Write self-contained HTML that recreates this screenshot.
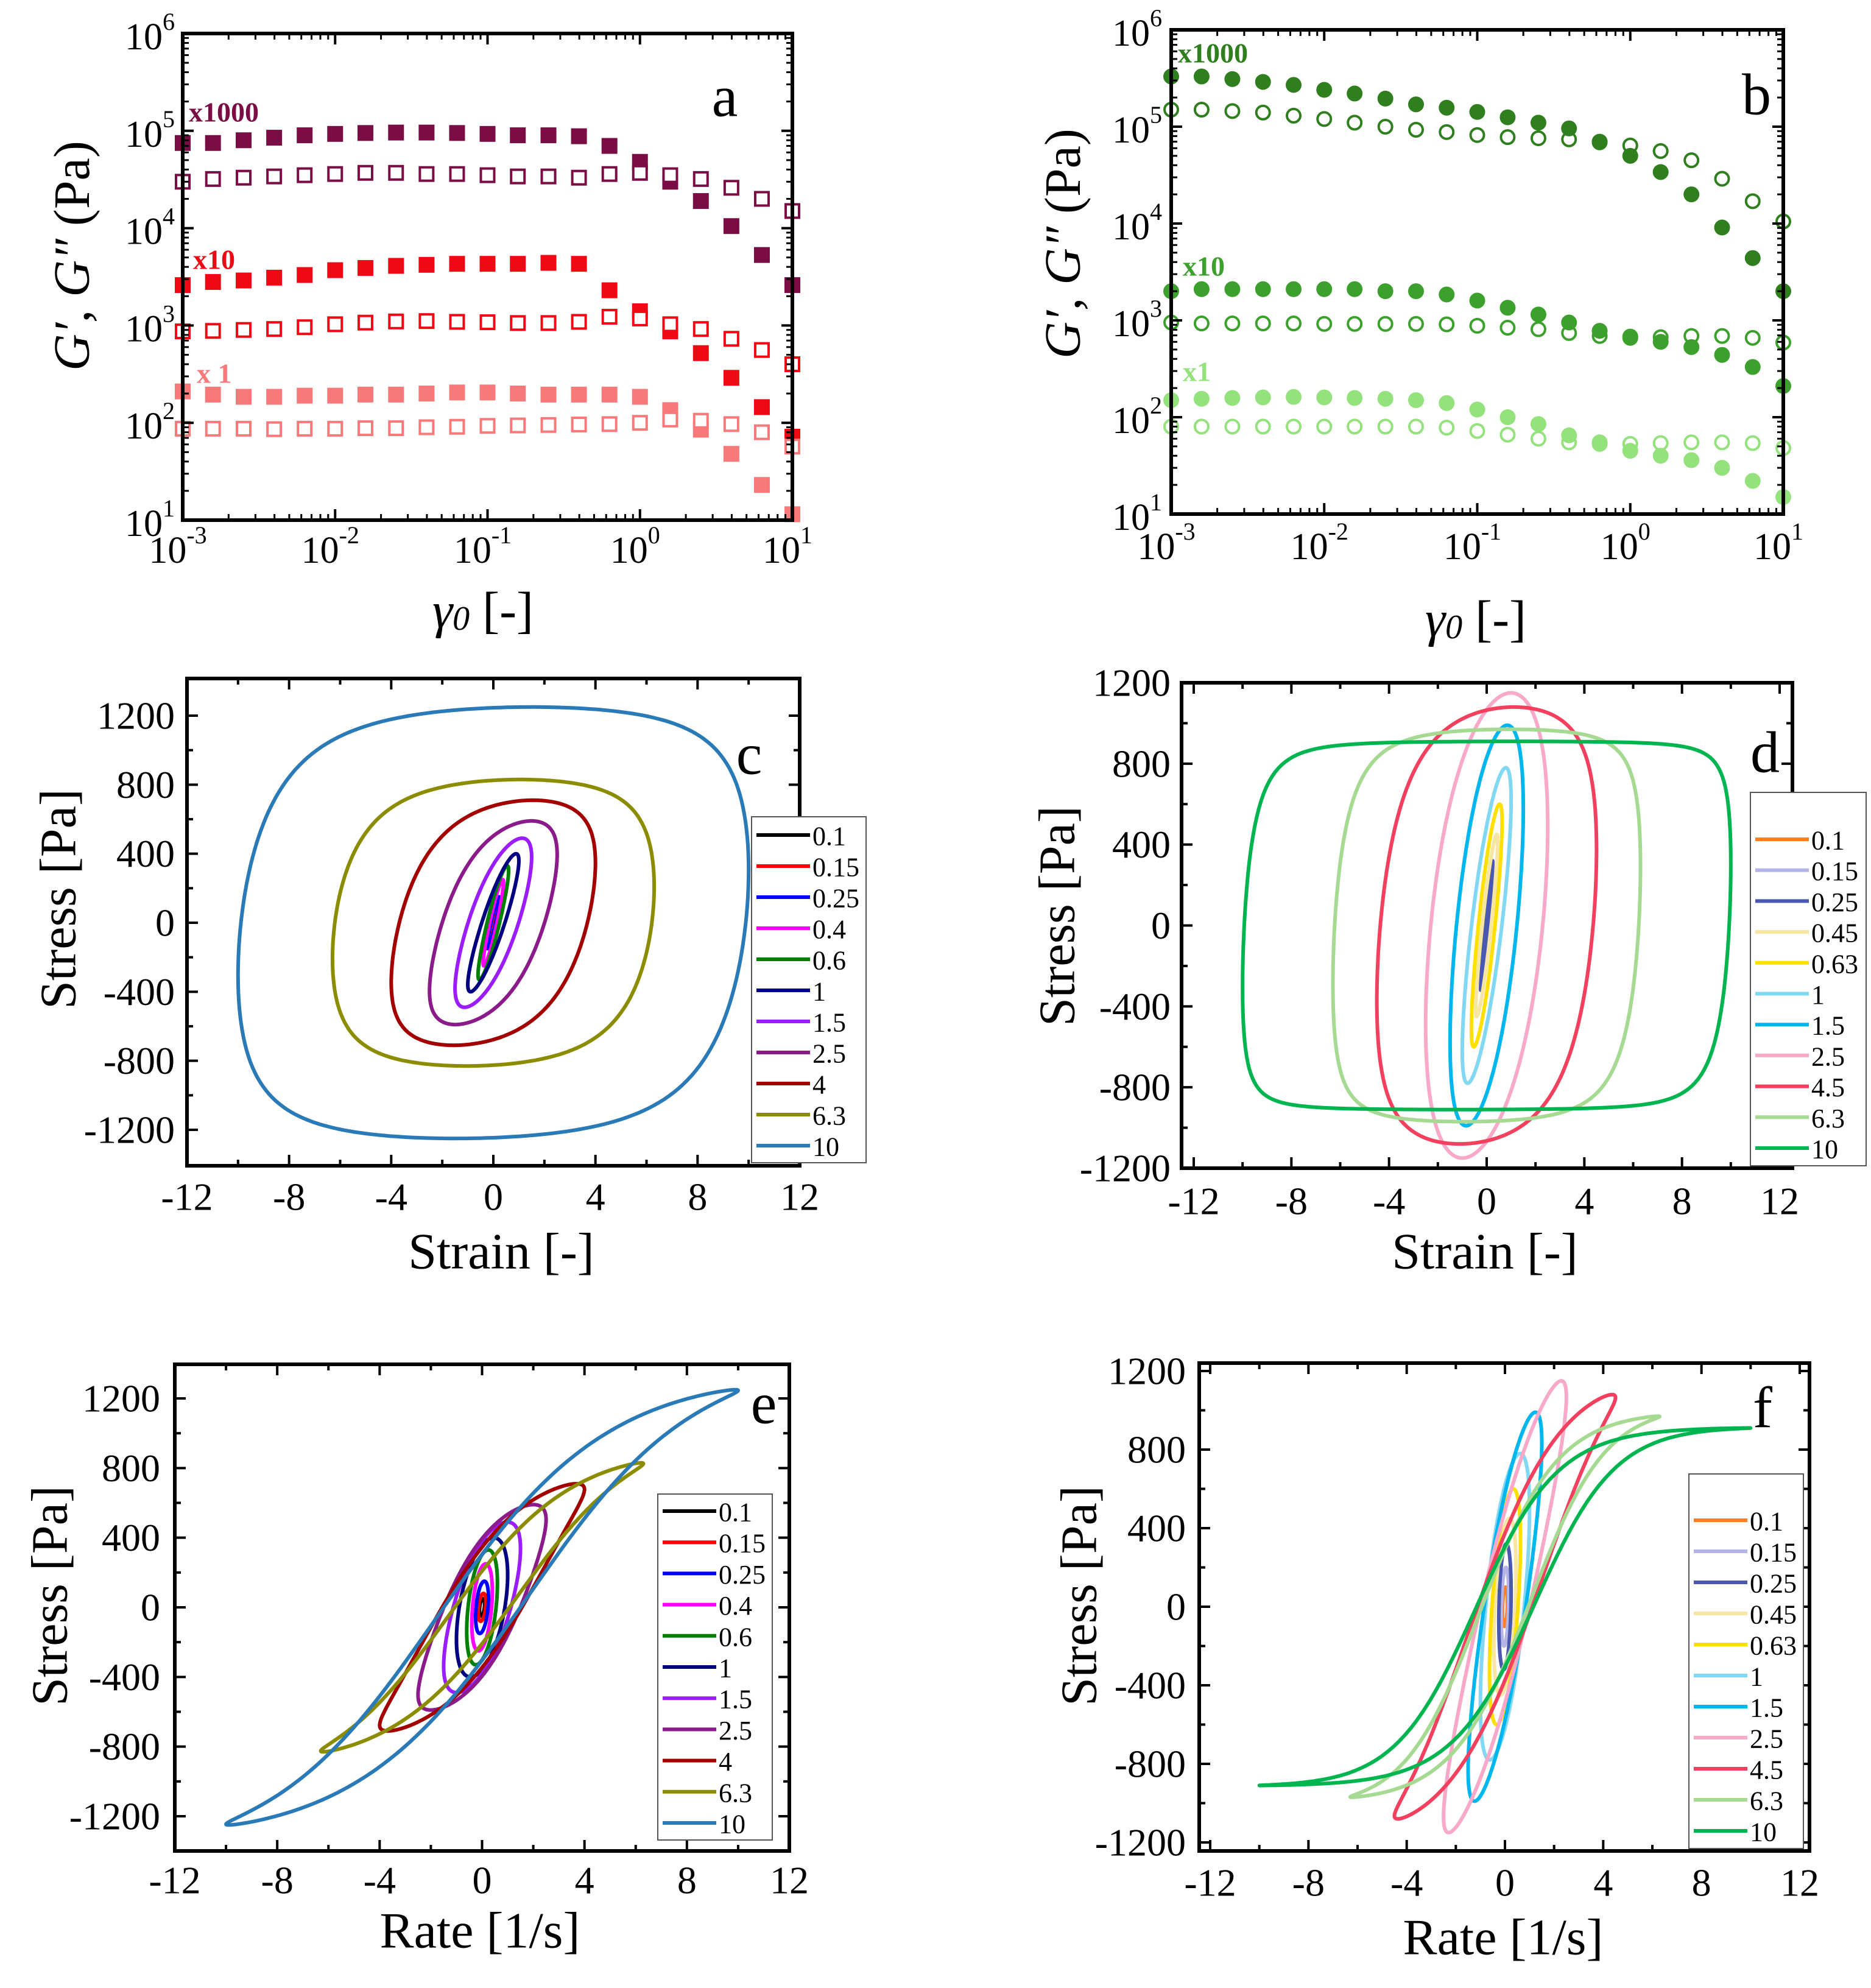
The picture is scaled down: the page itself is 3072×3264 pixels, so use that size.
<!DOCTYPE html>
<html><head><meta charset="utf-8"><title>Rheology figure</title>
<style>html,body{margin:0;padding:0;background:#fff}svg{display:block}text{font-family:"Liberation Serif",serif}</style>
</head><body>
<svg id="fig" xmlns="http://www.w3.org/2000/svg" width="3072" height="3264" viewBox="0 0 3072 3264">
<rect x="0" y="0" width="3072" height="3264" fill="#fff"/>
</svg>
<script>
// ---------- data: panels a/b (amplitude sweeps) ----------
const gammaPts=[0.001,0.00158,0.00251,0.00398,0.00631,0.01,0.0158,0.0251,0.0398,0.0631,0.1,0.158,0.251,0.398,0.631,1,1.58,2.51,3.98,6.31,10];
const aG1Fill=[7.5e4,7.5e4,8e4,8.5e4,9e4,9.3e4,9.5e4,9.6e4,9.6e4,9.5e4,9.3e4,9e4,9e4,8.8e4,7e4,4.8e4,3e4,1.9e4,1.05e4,5.3e3,2.6e3];
const aG1Open=[3.0e4,3.2e4,3.3e4,3.4e4,3.5e4,3.6e4,3.7e4,3.7e4,3.6e4,3.6e4,3.5e4,3.4e4,3.4e4,3.3e4,3.6e4,3.7e4,3.5e4,3.2e4,2.6e4,2.0e4,1.5e4];
const aG2Fill=[2.6e3,2.8e3,2.9e3,3.1e3,3.3e3,3.7e3,3.9e3,4.1e3,4.2e3,4.3e3,4.3e3,4.3e3,4.4e3,4.3e3,2.3e3,1.4e3,870,520,290,145,72];
const aG2Open=[870,880,900,920,960,1030,1070,1100,1110,1090,1080,1060,1060,1090,1230,1180,1030,920,730,560,400];
const aG3Fill=[210,195,185,185,190,190,195,195,200,205,205,200,195,195,195,185,135,85,48,23,11.5];
const aG3Open=[87,87,87,86,87,87,88,88,90,91,93,94,95,96,97,100,108,105,97,80,57];
const bG1Fill=[3.3e5,3.3e5,3.1e5,2.9e5,2.7e5,2.4e5,2.2e5,1.95e5,1.7e5,1.57e5,1.42e5,1.25e5,1.1e5,9.6e4,7e4,5e4,3.4e4,2e4,9.1e3,4.4e3,2e3];
const bG1Open=[1.5e5,1.5e5,1.45e5,1.4e5,1.3e5,1.2e5,1.1e5,1.0e5,9.3e4,8.8e4,8.2e4,7.8e4,7.6e4,7.4e4,6.9e4,6.4e4,5.6e4,4.5e4,2.9e4,1.7e4,1.05e4];
const bG2Fill=[2.0e3,2.1e3,2.1e3,2.1e3,2.1e3,2.1e3,2.1e3,2.0e3,2.0e3,1.85e3,1.6e3,1.35e3,1.15e3,950,780,680,600,530,440,330,210];
const bG2Open=[950,930,930,930,930,920,920,920,920,910,880,840,810,740,690,660,670,690,690,660,590];
const bG3Fill=[150,155,158,160,162,160,158,155,150,140,120,100,85,65,55,45,40,36,30,22,15];
const bG3Open=[80,80,80,80,80,80,80,80,80,78,72,66,60,55,53,53,54,55,55,54,48];
const logTickExps=[-3,-2,-1,0,1];
const logYExps=[1,2,3,4,5,6];
// ---------- data: LAOS loops (panels c/e and d/f) ----------
const loopTicks=[-12,-8,-4,0,4,8,12];
const stressTicks=[-1200,-800,-400,0,400,800,1200];
const ceLabels=['0.1','0.15','0.25','0.4','0.6','1','1.5','2.5','4','6.3','10'];
const ceAmp=[0.1,0.15,0.25,0.4,0.6,1,1.5,2.5,4,6.3,10];
const ceStressMax=[50,80,150,250,330,400,490,590,710,830,1250];
const cePhase=[1.2,1.2,1.2,1.2,1.15,1.1,0.85,0.64,0.4,0.17,0.15];
const ceSquare=[0.3,0.3,0.3,0.3,0.3,0.3,0.5,0.8,1.0,1.3,1.5];
const ceColors=['#000000','#ff0000','#0000ff','#ff00ff','#008000','#000080','#9b1cff','#8b1a8b','#a30000','#8c8c00','#2a7ab8'];
const dfLabels=['0.1','0.15','0.25','0.45','0.63','1','1.5','2.5','4.5','6.3','10'];
const dfAmp=[0.1,0.15,0.25,0.45,0.63,1,1.5,2.5,4.5,6.3,10];
const dfStressMax=[100,200,320,450,600,780,990,1150,1080,970,910];
const dfPhase=[1.3,1.3,1.35,1.15,1.0,0.9,0.6,0.41,0.25,0.15,0.116];
const dfSquare=[0.3,0.3,0.3,0.3,0.3,0.3,0.4,0.5,1.2,2.0,3.0];
const dfColors=['#ff7f27','#b4b4e6','#4a58b0','#f6e6a2','#ffe000','#82d8f2','#00b6ee','#f8a8c8','#f2405e','#a6da92','#00b450'];

const NS='http://www.w3.org/2000/svg';
const svg=document.getElementById('fig');
function mk(tag,attrs,parent){const e=document.createElementNS(NS,tag);for(const k in attrs)e.setAttribute(k,attrs[k]);(parent||svg).appendChild(e);return e;}
function txt(parent,x,y,s,size,anchor,extra){const e=mk('text',Object.assign({x:x,y:y,'font-size':size,'text-anchor':anchor||'middle','dominant-baseline':'central'},extra||{}),parent);e.textContent=s;return e;}

function frame(g,L,R,T,B){
  const f=mk('rect',{x:L,y:T,width:R-L,height:B-T,fill:'none',stroke:'#000','stroke-width':6},g);
  
  
}
function tickLine(g,x1,y1,x2,y2,w){
  const t=mk('line',{x1:x1,y1:y1,x2:x2,y2:y2,stroke:'#000','stroke-width':w||4},g);
  
  
}

// ---------- log panels ----------
function logPanel(id,cfg){
  const g=mk('g',{});
  
  
  const {L,R,T,B}=cfg;
  const X=v=>L+(Math.log10(v)+3)/4*(R-L);
  const Y=v=>B-(Math.log10(v)-1)/5*(B-T);
  cfg.series.forEach(s=>{
    const sg=mk('g',{},g);
    
    
    s.vals.forEach((v,i)=>{
      const cx=X(gammaPts[i]),cy=Y(v);
      let m;
      if(cfg.shape==='sq'){
        if(s.fill) m=mk('rect',{x:cx-13,y:cy-13,width:26,height:26,fill:s.color},sg);
        else m=mk('rect',{x:cx-11,y:cy-11,width:22,height:22,fill:'#fff',stroke:s.color,'stroke-width':4},sg);
      } else {
        if(s.fill) m=mk('circle',{cx:cx,cy:cy,r:13,fill:s.color},sg);
        else m=mk('circle',{cx:cx,cy:cy,r:11,fill:'none',stroke:s.color,'stroke-width':4},sg);
      }
      
      
    });
  });
  frame(g,L,R,T,B);
  for(let e=-3;e<=1;e++){
    const x=X(Math.pow(10,e));
    tickLine(g,x,B,x,B-18);tickLine(g,x,T,x,T+18);
    if(e<1)for(let m=2;m<=9;m++){const xm=X(m*Math.pow(10,e));tickLine(g,xm,B,xm,B-10,3);tickLine(g,xm,T,xm,T+10,3);}
  }
  for(let e=1;e<=6;e++){
    const y=Y(Math.pow(10,e));
    tickLine(g,L,y,L+18,y);tickLine(g,R,y,R-18,y);
    if(e<6)for(let m=2;m<=9;m++){const ym=Y(m*Math.pow(10,e));tickLine(g,L,ym,L+10,ym,3);tickLine(g,R,ym,R-10,ym,3);}
  }
  logTickExps.forEach(e=>{
    const t=txt(g,X(Math.pow(10,e))-8,cfg.xLabY,'10',62,'middle');
    const sp=mk('tspan',{'font-size':40,dy:-26},t);sp.textContent=String(e);
    
    
  });
  logYExps.forEach(e=>{
    const t=txt(g,cfg.yLabX,Y(Math.pow(10,e))+6,'10',62,'end');
    const sp=mk('tspan',{'font-size':40,dy:-26},t);sp.textContent=String(e);
    
    
  });
  const yt=txt(g,0,0,'',84,'middle',{transform:`translate(${cfg.yTitle[0]},${cfg.yTitle[1]}) rotate(-90)`});
  const s1=mk('tspan',{'font-style':'italic'},yt);s1.textContent="G′, G″";
  const s2=mk('tspan',{},yt);s2.textContent=" (Pa)";
  
  
  const xt=txt(g,cfg.xTitle[0],cfg.xTitle[1],'',84,'middle');
  const s3=mk('tspan',{'font-style':'italic'},xt);s3.textContent='γ';
  const s4=mk('tspan',{'font-style':'italic','font-size':56,dy:14},xt);s4.textContent='0';
  const s5=mk('tspan',{dy:-14},xt);s5.textContent=' [-]';
  
  
  cfg.notes.forEach(n=>{
    const t=txt(g,n[0],n[1],n[2],46,'start',{fill:n[3],'font-weight':'bold'});
    
    
  });
  const pl=txt(g,cfg.letter[0],cfg.letter[1],id,96,'middle',{'font-family':'"Liberation Sans",sans-serif'});
  
  
}

logPanel('a',{L:300,R:1301,T:55,B:854,shape:'sq',xLabY:904,yLabX:287,yTitle:[118,420],xTitle:[793,1002],letter:[1190,158],
  notes:[[310,184,'x1000','#7b0d45'],[317,426,'x10','#ee0a14'],[323,613,'x 1','#f7797a']],
  series:[{name:'x1000-storage-modulus',vals:aG1Fill,color:'#7b0d45',fill:true},{name:'x1000-loss-modulus',vals:aG1Open,color:'#7b0d45',fill:false},
   {name:'x10-storage-modulus',vals:aG2Fill,color:'#ee0a14',fill:true},{name:'x10-loss-modulus',vals:aG2Open,color:'#ee0a14',fill:false},
   {name:'x1-storage-modulus',vals:aG3Fill,color:'#f7797a',fill:true},{name:'x1-loss-modulus',vals:aG3Open,color:'#f7797a',fill:false}]});
logPanel('b',{L:1923,R:2928,T:49,B:844,shape:'ci',xLabY:898,yLabX:1908,yTitle:[1745,400],xTitle:[2423,1016],letter:[2884,155],
  notes:[[1934,87,'x1000','#2f7f1f'],[1942,437,'x10','#3ca12c'],[1942,610,'x1','#93e27c']],
  series:[{name:'x1000-storage-modulus',vals:bG1Fill,color:'#2f7f1f',fill:true},{name:'x1000-loss-modulus',vals:bG1Open,color:'#2f7f1f',fill:false},
   {name:'x10-storage-modulus',vals:bG2Fill,color:'#3ca12c',fill:true},{name:'x10-loss-modulus',vals:bG2Open,color:'#3ca12c',fill:false},
   {name:'x1-storage-modulus',vals:bG3Fill,color:'#93e27c',fill:true},{name:'x1-loss-modulus',vals:bG3Open,color:'#93e27c',fill:false}]});

// ---------- loop panels ----------
function loopPanel(id,cfg){
  const g=mk('g',{});
  
  
  const {L,R,T,B}=cfg;
  const X=v=>cfg.xa[1]+(v-cfg.xa[0])*(cfg.xb[1]-cfg.xa[1])/(cfg.xb[0]-cfg.xa[0]);
  const Y=v=>cfg.ya[1]+(v-cfg.ya[0])*(cfg.yb[1]-cfg.ya[1])/(cfg.yb[0]-cfg.ya[0]);
  for(let i=0;i<cfg.amp.length;i++){
    const A=cfg.amp[i],S=cfg.smax[i],ph=cfg.phase[i],k=cfg.sq[i];
    let d='';
    for(let j=0;j<=240;j++){
      const t=j/240*2*Math.PI;
      const xv=cfg.useRate?A*Math.cos(t):A*Math.sin(t);
      const sv=S*Math.tanh(k*Math.cos(t-ph))/Math.tanh(k);
      d+=(j?'L':'M')+X(xv).toFixed(1)+' '+Y(sv).toFixed(1);
    }
    const p=mk('path',{d:d+'Z',fill:'none',stroke:cfg.colors[i],'stroke-width':6,'stroke-linejoin':'round'},g);
    
    
  }
  frame(g,L,R,T,B);
  for(let v=-12;v<=12;v+=2){const x=X(v);const len=(v%4===0)?18:10;tickLine(g,x,B,x,B-len);tickLine(g,x,T,x,T+len);}
  for(let v=-1200;v<=1200;v+=200){const y=Y(v);const len=(v%400===0)?18:10;tickLine(g,L,y,L+len,y);tickLine(g,R,y,R-len,y);}
  loopTicks.forEach(v=>{const t=txt(g,X(v),cfg.xLabY,String(v),64,'middle');
    
    });
  stressTicks.forEach(v=>{const t=txt(g,cfg.yLabX,Y(v),String(v),64,'end');
    
    });
  const yt=txt(g,0,0,'Stress [Pa]',84,'middle',{transform:`translate(${cfg.yTitle[0]},${cfg.yTitle[1]}) rotate(-90)`});
  
  
  const xt=txt(g,cfg.xTitle[0],cfg.xTitle[1],cfg.xTitleText,84,'middle');
  
  
  const pl=txt(g,cfg.letter[0],cfg.letter[1],id,96,'middle',{'font-family':'"Liberation Sans",sans-serif'});
  
  
  const lg=mk('g',{},g);
  
  
  const lb=mk('rect',{x:cfg.leg[0],y:cfg.leg[1],width:cfg.leg[2],height:cfg.leg[3],fill:'#fff',stroke:'#555','stroke-width':2},lg);
  
  
  cfg.labels.forEach((lab,i)=>{
    const yy=cfg.legStart+i*cfg.legStep;
    const ln=mk('line',{x1:cfg.leg[0]+8,y1:yy,x2:cfg.leg[0]+96,y2:yy,stroke:cfg.colors[i],'stroke-width':6},lg);
    
    
    const t=txt(lg,cfg.leg[0]+100,yy+2,lab,44,'start');
    
    
  });
}
const ceCommon={amp:ceAmp,smax:ceStressMax,phase:cePhase,sq:ceSquare,colors:ceColors,labels:ceLabels};
const dfCommon={amp:dfAmp,smax:dfStressMax,phase:dfPhase,sq:dfSquare,colors:dfColors,labels:dfLabels};
loopPanel('c',Object.assign({L:307,R:1313,T:1114,B:1914,xa:[-12,307],xb:[12,1313],ya:[1200,1175],yb:[-1200,1855],useRate:false,
  xLabY:1965,yLabX:287,yTitle:[96,1476],xTitle:[823,2055],xTitleText:'Strain [-]',letter:[1230,1238],
  leg:[1234,1341,188,568],legStart:1371,legStep:51},ceCommon));
loopPanel('d',Object.assign({L:1940,R:2943,T:1121,B:1918,xa:[-12,1960],xb:[12,2922],ya:[1200,1121],yb:[-1200,1918],useRate:false,
  xLabY:1972,yLabX:1922,yTitle:[1736,1504],xTitle:[2438,2055],xTitleText:'Strain [-]',letter:[2898,1235],
  leg:[2874,1301,190,613],legStart:1378,legStep:50.7},dfCommon));
loopPanel('e',Object.assign({L:287,R:1296,T:2240,B:3039,xa:[-12,287],xb:[12,1296],ya:[1200,2296],yb:[-1200,2982],useRate:true,
  xLabY:3087,yLabX:263,yTitle:[82,2620],xTitle:[788,3170],xTitleText:'Rate [1/s]',letter:[1254,2304],
  leg:[1080,2453,188,568],legStart:2481,legStep:51.2},ceCommon));
loopPanel('f',Object.assign({L:1969,R:2971,T:2238,B:3039,xa:[-12,1987],xb:[12,2955],ya:[1200,2251],yb:[-1200,3025],useRate:true,
  xLabY:3091,yLabX:1947,yTitle:[1772,2620],xTitle:[2468,3181],xTitleText:'Rate [1/s]',letter:[2894,2311],
  leg:[2773,2420,188,615],legStart:2496,legStep:51},dfCommon));
</script>
</body></html>
